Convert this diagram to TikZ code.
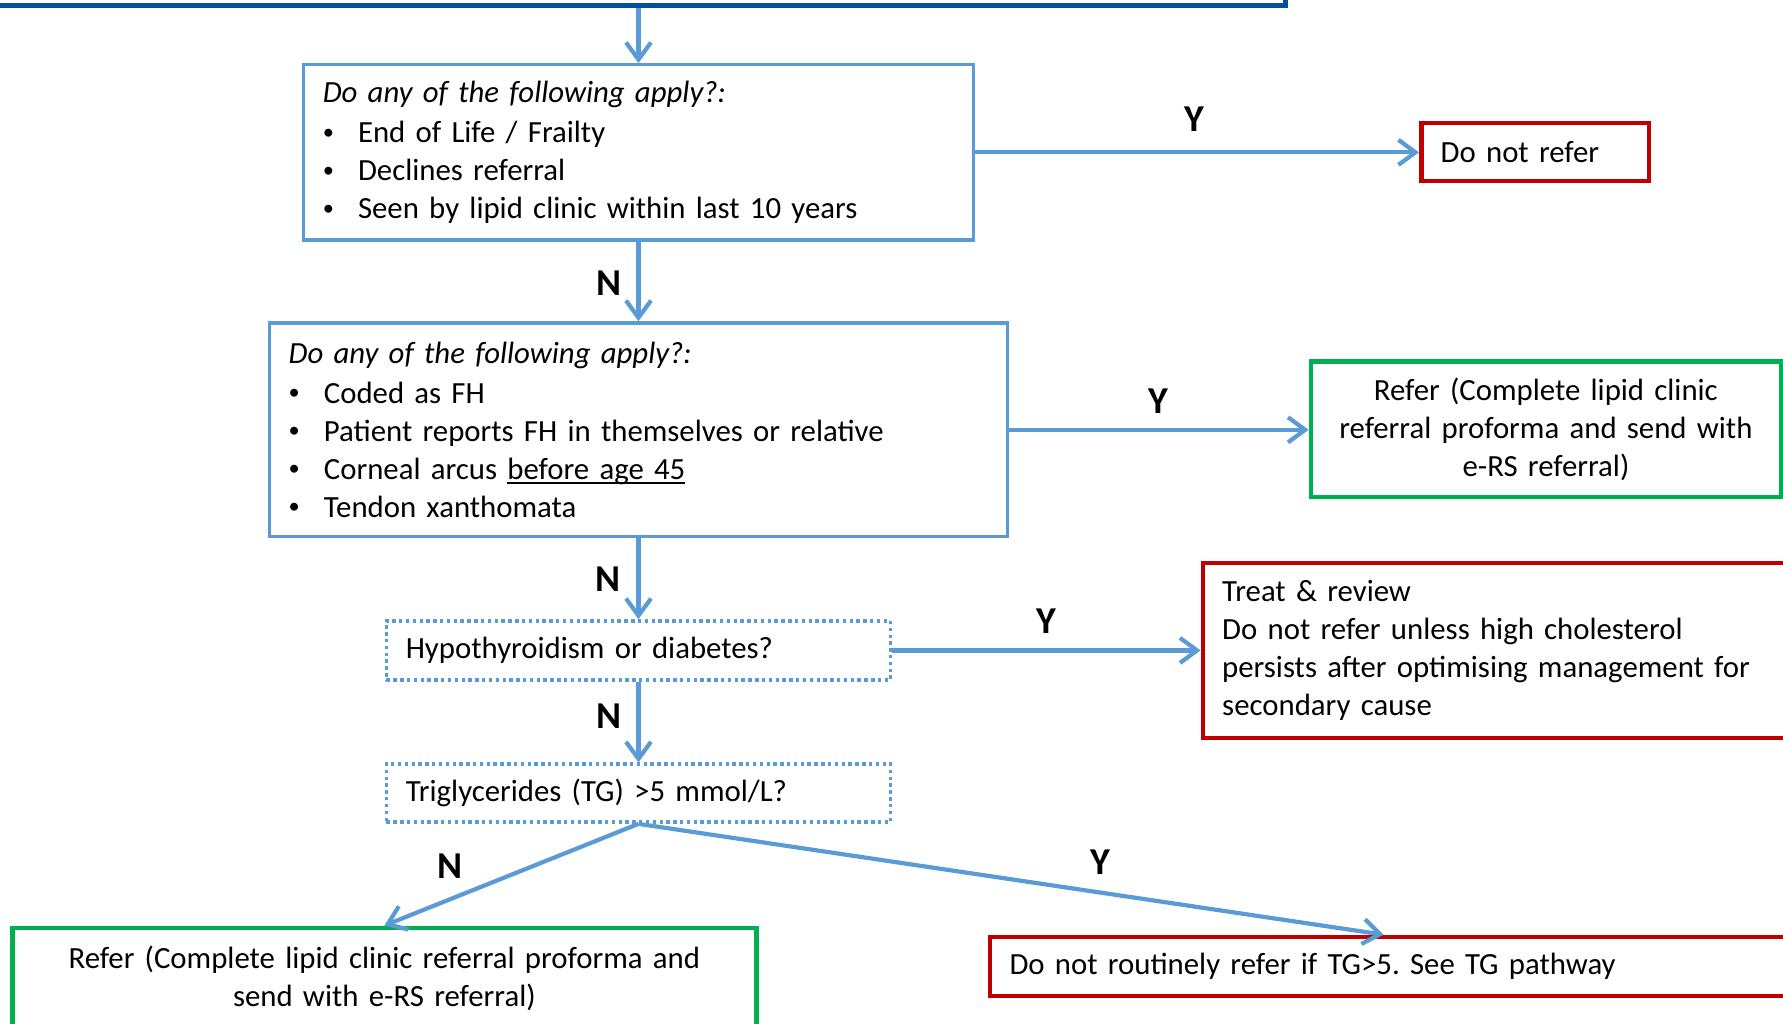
\documentclass[tikz,border=0pt]{standalone}
\usepackage{fontspec}
\setmainfont{Carlito}
\usetikzlibrary{arrows.meta,calc}
\definecolor{lineblue}{RGB}{91,155,213}
\definecolor{boxred}{RGB}{192,0,0}
\definecolor{boxgreen}{RGB}{0,176,80}
\definecolor{darkblue}{RGB}{0,80,155}
\newcommand{\bul}[1]{\makebox[0.31cm][l]{\raisebox{0.12em}{\fontsize{5.6pt}{6pt}\selectfont •}}#1}
\newcommand{\myul}[1]{\setbox0\hbox{#1}\rlap{\rule[-0.14em]{\wd0}{0.065em}}\box0}
\frenchspacing
\begin{document}
\begin{tikzpicture}[x=0.01cm,y=-0.01cm,
  txt/.style={font=\fontsize{7.7pt}{9.5pt}\selectfont, inner xsep=0.17cm, inner ysep=0pt, anchor=center},
  bluebox/.style={txt, draw=lineblue, line width=0.03cm, align=left},
  dotbox/.style={txt, draw=lineblue, line width=0.03cm, dash pattern=on 0.03cm off 0.03cm, align=left},
  redbox/.style={txt, draw=boxred, line width=0.04cm, align=left},
  greenbox/.style={txt, draw=boxgreen, line width=0.04cm, align=center},
  lbl/.style={font=\fontsize{9.5pt}{11pt}\selectfont\bfseries, inner sep=0pt},
  arr/.style={draw=lineblue, line width=0.037cm, -{Straight Barb[length=1.5mm,width=2.2mm]}}]
\useasboundingbox (0,0) rectangle (1568,900);

\node[draw=darkblue, line width=0.04cm, minimum width=11.6cm, minimum height=0.65cm] (top) at (550,-27.5) {};

\node[bluebox, minimum width=5.89cm, minimum height=1.54cm, text width=5.55cm] (b1) at (561.5,134)
 {\textit{Do any of the following apply?:}\\[0.02cm]
  \bul{End of Life / Frailty}\\
  \bul{Declines referral}\\
  \bul{Seen by lipid clinic within last 10 years}};

\node[redbox, minimum width=2.00cm, minimum height=0.51cm, text width=1.66cm] (dnr) at (1350,133.5) {Do not refer};

\node[bluebox, minimum width=6.49cm, minimum height=1.88cm, text width=6.15cm] (b2) at (561.5,378)
 {\textit{Do any of the following apply?:}\\[0.02cm]
  \bul{Coded as FH}\\
  \bul{Patient reports FH in themselves or relative}\\
  \bul{Corneal arcus \myul{before age 45}}\\
  \bul{Tendon xanthomata}};

\node[greenbox, minimum width=4.13cm, minimum height=1.19cm, text width=3.79cm] (g1) at (1359.5,377.5)
 {Refer (Complete lipid clinic\\ referral proforma and send with\\ e-RS referral)};

\node[dotbox, minimum width=4.43cm, minimum height=0.52cm, text width=4.09cm] (b3) at (561.5,572) {Hypothyroidism or diabetes?};

\node[redbox, minimum width=5.42cm, minimum height=1.54cm, text width=5.08cm] (r2) at (1329,572)
 {Treat \& review\\ Do not refer unless high cholesterol\\ persists after optimising management for\\ secondary cause};

\node[dotbox, minimum width=4.43cm, minimum height=0.51cm, text width=4.09cm] (b4) at (561.5,697.5) {Triglycerides (TG) >5 mmol/L?};

\node[greenbox, minimum width=6.54cm, minimum height=0.88cm, text width=6.20cm] (g2) at (338,860)
 {Refer (Complete lipid clinic referral proforma and\\ send with e-RS referral)};

\node[redbox, minimum width=7.29cm, minimum height=0.52cm, text width=6.95cm] (r3) at (1235.5,850) {Do not routinely refer if TG>5. See TG pathway};

\coordinate (r3tip) at ($(r3.north west)+(348,0)$);

\draw[arr] (top.south -| b1.north) -- (b1.north);
\draw[arr] (b1.east) -- (b1.east -| dnr.west);
\draw[arr] (b1.south) -- (b2.north);
\draw[arr] (b2.east) -- (b2.east -| g1.west);
\draw[arr] (b2.south) -- (b3.north);
\draw[arr] (b3.east) -- (r2.west);
\draw[arr] (b3.south) -- (b4.north);
\draw[arr] (b4.south) -- (g2.north);
\draw[arr] (b4.south) -- (r3tip);

\node[lbl] (y1) at (1050,105) {Y};
\node[lbl] (n1) at (536,249) {N};
\node[lbl] (y2) at (1019,353) {Y};
\node[lbl] (n2) at (535,509) {N};
\node[lbl] (y3) at (920,546) {Y};
\node[lbl] (n3) at (536,630) {N};
\node[lbl] (n4) at (396,762) {N};
\node[lbl] (y4) at (968,758) {Y};
\end{tikzpicture}
\end{document}
